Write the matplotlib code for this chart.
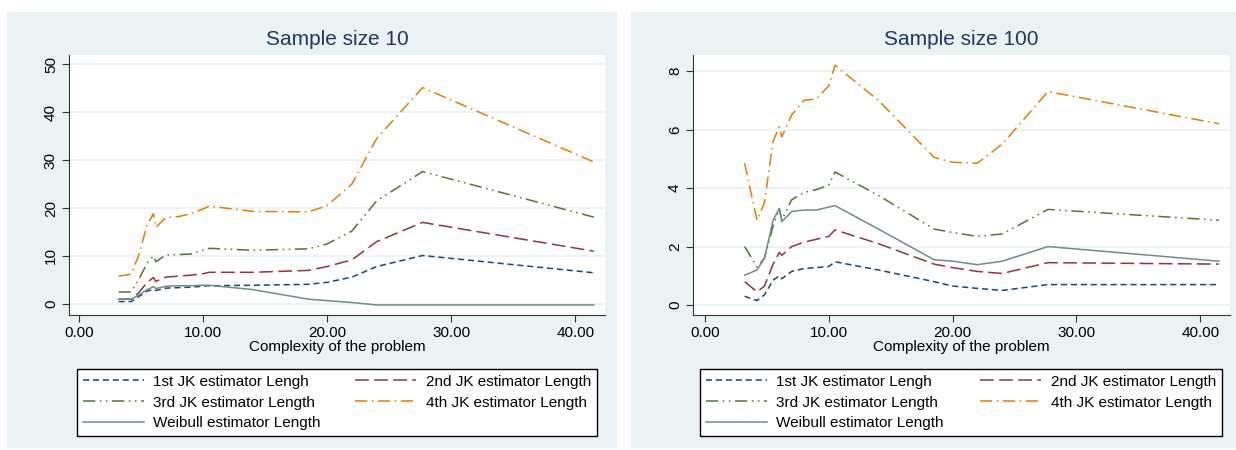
import matplotlib.pyplot as plt
from matplotlib.patches import Rectangle

plt.rcParams['font.family'] = ['Liberation Sans', 'DejaVu Sans']

# complexity values (x) shared by every series
complexity = [3.2, 4.2, 4.8, 5.5, 6.0, 6.2, 7.0, 8.0, 9.0, 10.0, 10.5,
              14.0, 18.5, 20.0, 22.0, 24.0, 27.7, 41.5]

# sample size 10
jk1_10 = [0.5, 0.5, 1.5, 2.7, 3.0, 2.8, 3.3, 3.4, 3.5, 3.7, 3.8, 3.9, 4.1, 4.5, 5.6, 7.8, 10.1, 6.5]
jk2_10 = [1.0, 1.0, 2.3, 4.5, 5.5, 4.7, 5.6, 5.8, 6.0, 6.3, 6.6, 6.6, 7.0, 7.8, 9.2, 13.0, 17.0, 11.0]
jk3_10 = [2.5, 2.5, 5.0, 8.5, 10.0, 8.8, 10.2, 10.3, 10.4, 11.2, 11.6, 11.2, 11.5, 12.5, 15.2, 21.5, 27.6, 18.1]
jk4_10 = [5.8, 6.2, 10.0, 16.5, 18.8, 16.0, 18.0, 18.2, 18.8, 19.8, 20.4, 19.3, 19.2, 20.5, 25.0, 34.5, 45.1, 29.6]
weib_10 = [1.0, 1.0, 1.8, 3.0, 3.6, 3.2, 3.7, 3.8, 3.8, 3.9, 3.9, 3.0, 1.0, 0.7, 0.3, -0.2, -0.2, -0.2]

# sample size 100
jk1_100 = [0.3, 0.15, 0.35, 0.85, 1.0, 0.9, 1.15, 1.25, 1.28, 1.32, 1.48, 1.2, 0.8, 0.65, 0.57, 0.5, 0.7, 0.7]
jk2_100 = [0.8, 0.45, 0.65, 1.4, 1.8, 1.7, 2.0, 2.15, 2.25, 2.35, 2.57, 2.1, 1.4, 1.28, 1.15, 1.08, 1.45, 1.4]
jk3_100 = [2.0, 1.3, 1.6, 2.7, 3.3, 2.9, 3.6, 3.85, 3.95, 4.1, 4.55, 3.75, 2.6, 2.48, 2.35, 2.43, 3.27, 2.9]
jk4_100 = [4.85, 2.9, 3.5, 5.6, 6.1, 5.75, 6.5, 7.0, 7.05, 7.5, 8.2, 7.0, 5.05, 4.88, 4.85, 5.5, 7.3, 6.2]
weib_100 = [1.02, 1.2, 1.6, 2.9, 3.3, 2.85, 3.2, 3.25, 3.25, 3.35, 3.4, 2.6, 1.55, 1.5, 1.38, 1.5, 2.0, 1.5]

labels = ['1st JK estimator Lengh', '2nd JK estimator Length', '3rd JK estimator Length',
          '4th JK estimator Length', 'Weibull estimator Length']
colors = ['#1a476f', '#90353b', '#55752f', '#e37e00', '#6e8e84']
styles = [(0, (4, 2.5)), (0, (9, 3.5)), (0, (8, 3, 1, 3, 1, 3)), (0, (8, 3, 1, 3)), '-']

bg = '#eaf2f3'
W, H = 1236, 450
fig = plt.figure(figsize=(W / 100, H / 100), dpi=100)
fig.patch.set_facecolor('white')


def px(x0, y0, x1, y1):
    return [x0 / W, 1 - y1 / H, (x1 - x0) / W, (y1 - y0) / H]


def panel(bx, ax_box, title, series, xlim, ylim, yticks, leg_box):
    b = px(*bx)
    fig.patches.append(Rectangle((b[0], b[1]), b[2], b[3], transform=fig.transFigure,
                                 facecolor=bg, edgecolor='none', zorder=-10))
    ax = fig.add_axes(px(*ax_box))
    ax.set_facecolor('white')
    lines = []
    for ys, c, s, lab in zip(series, colors, styles, labels):
        ln, = ax.plot(complexity, ys, color=c, linestyle=s, linewidth=1.1, label=lab)
        lines.append(ln)
    ax.set_xlim(*xlim)
    ax.set_ylim(*ylim)
    ax.set_xticks([0, 10, 20, 30, 40])
    ax.set_xticklabels(['0.00', '10.00', '20.00', '30.00', '40.00'], fontsize=11)
    ax.set_yticks(yticks)
    ax.set_yticklabels([str(t) for t in yticks], fontsize=11, rotation=90, va='center')
    ax.grid(axis='y', color=bg, linewidth=1.2)
    ax.set_axisbelow(True)
    for sp in ['top', 'right']:
        ax.spines[sp].set_visible(False)
    for sp in ['left', 'bottom']:
        ax.spines[sp].set_color('#333333')
    ax.tick_params(color='#333333', length=5, pad=3)
    ax.set_xlabel('Complexity of the problem', fontsize=11, labelpad=0)
    ax.set_title(title, fontsize=15, color='#1e3765', pad=7)
    order = [0, 2, 4, 1, 3]
    lb = px(*leg_box)
    leg = fig.legend([lines[i] for i in order], [labels[i] for i in order], ncol=2,
                     loc='center', bbox_to_anchor=lb, mode='expand', fontsize=11,
                     handlelength=4.0, handletextpad=0.6, frameon=True, fancybox=False,
                     borderaxespad=0, labelspacing=0.45, columnspacing=2.0, borderpad=0.4,
                     framealpha=1, facecolor='white')
    leg.get_frame().set_edgecolor('black')
    leg.get_frame().set_linewidth(1.0)
    return ax


panel((7, 12, 617, 448), (69, 55, 605, 315), 'Sample size 10',
      [jk1_10, jk2_10, jk3_10, jk4_10, weib_10], (-0.8, 42.4), (-2.3, 51.9),
      [0, 10, 20, 30, 40, 50], (77, 368, 597, 437))
panel((631, 12, 1236, 448), (693, 55, 1230, 315), 'Sample size 100',
      [jk1_100, jk2_100, jk3_100, jk4_100, weib_100], (-0.97, 42.4), (-0.34, 8.55),
      [0, 2, 4, 6, 8], (700, 368, 1222, 437))

fig.savefig('out.png', dpi=100)
